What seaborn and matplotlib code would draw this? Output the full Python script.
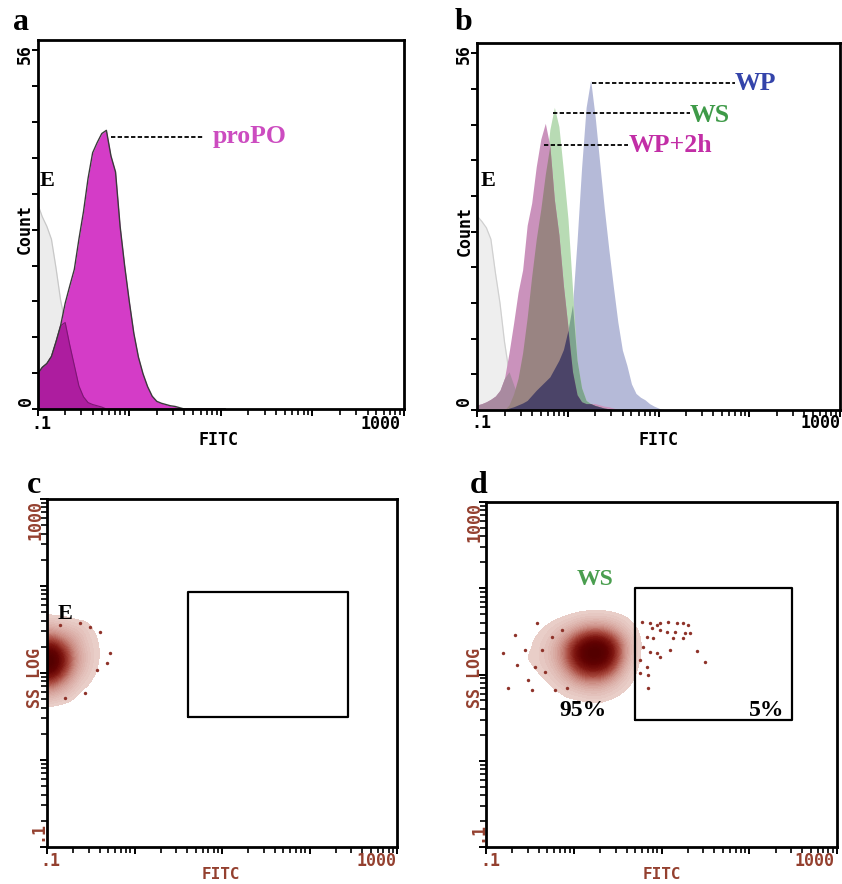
import numpy as np
import matplotlib
matplotlib.use("Agg")
import matplotlib.pyplot as plt
from matplotlib.ticker import FixedLocator, LogLocator, NullFormatter
from matplotlib.colors import LinearSegmentedColormap
import seaborn as sns

sns.set_theme(style="white")
MONO = ["DejaVu Sans Mono", "DejaVu Sans"]
SERIF = ["Liberation Serif", "DejaVu Serif"]
plt.rcParams["font.family"] = MONO

# ---------------- histogram data (log10 FITC bin centres, counts) ----------------
log_fitc = [-1.00, -0.95, -0.90, -0.85, -0.80, -0.75, -0.70, -0.65, -0.60, -0.55,
            -0.50, -0.45, -0.40, -0.35, -0.30, -0.25, -0.20, -0.15, -0.10, -0.05,
             0.00,  0.05,  0.10,  0.15,  0.20,  0.25,  0.30,  0.35,  0.40,  0.45,
             0.50,  0.55,  0.60,  0.65,  0.70,  0.75,  0.80,  0.85,  0.90,  0.95,
             1.00,  1.05]

a_E = [32.0, 30.0, 28.5, 26.5, 22.0, 17.0, 13.5, 10.0, 6.8, 3.6,
       1.9, 1.0, 0.7, 0.5, 0.3, 0, 0, 0, 0, 0,
       0, 0, 0, 0, 0, 0, 0, 0, 0, 0,
       0, 0, 0, 0, 0, 0, 0, 0, 0, 0,
       0, 0]
a_proPO = [5.5, 6.5, 7.1, 8.2, 10.5, 13.0, 16.5, 19.2, 21.8, 26.5,
           30.8, 36.0, 40.0, 41.6, 43.0, 43.5, 39.5, 37.0, 28.5, 22.3,
           16.8, 11.8, 8.1, 5.5, 3.5, 2.0, 1.2, 0.9, 0.7, 0.5,
           0.4, 0.2, 0, 0, 0, 0, 0, 0, 0, 0,
           0, 0]

b_E = [30.4, 29.6, 28.6, 26.8, 21.5, 16.8, 10.7, 6.0, 4.0, 2.0,
       0.9, 0.5, 0.2, 0, 0, 0, 0, 0, 0, 0,
       0, 0, 0, 0, 0, 0, 0, 0, 0, 0,
       0, 0, 0, 0, 0, 0, 0, 0, 0, 0,
       0, 0]
b_WP2h = [0.8, 1.0, 1.3, 1.7, 2.2, 3.1, 5.0, 9.0, 13.6, 18.5,
          22.0, 29.0, 32.5, 38.2, 42.5, 45.0, 41.5, 33.0, 27.5, 19.5,
          13.0, 6.0, 2.4, 1.3, 1.0, 1.0, 1.0, 0.8, 0.6, 0.5,
          0.3, 0.1, 0, 0, 0, 0, 0, 0, 0, 0,
          0, 0]
b_WS = [0, 0, 0, 0, 0, 0, 0, 0.8, 2.5, 5.0,
        9.0, 14.5, 21.0, 26.8, 31.5, 37.0, 44.0, 47.5, 44.5, 37.5,
        30.0, 19.0, 7.8, 3.5, 1.5, 1.0, 0.7, 0.5, 0.3, 0.2,
        0, 0, 0, 0, 0, 0, 0, 0, 0, 0,
        0, 0]
b_WP = [0, 0, 0, 0, 0, 0, 0, 0.3, 0.5, 0.8,
        1.1, 1.5, 2.3, 3.1, 3.8, 4.5, 5.2, 6.5, 7.8, 9.5,
        12.5, 16.5, 26.5, 38.0, 47.5, 51.8, 46.0, 38.8, 31.7, 25.3,
        19.4, 13.8, 9.4, 7.0, 4.1, 2.6, 2.0, 1.6, 1.0, 0.6,
        0.3, 0]

count_ticks = [0, 5.6, 11.2, 16.8, 22.4, 28.0, 33.6, 39.2, 44.8, 50.4, 56.0]
count_tick_labels = ["0", "56"]
fitc_tick_labels = [".1", "1000"]
ss_tick_labels = [".1", "1000"]

# peak markers (count level, dashed leader from/to FITC)
a_peak = {"proPO": (42.4, 0.627, 6.4)}
b_peaks = {"WP": (51.4, 1.82, 68.9), "WS": (46.6, 0.682, 22.0), "WP+2h": (41.6, 0.543, 4.57)}

# ---------------- dot-plot data: density grids (log10 FITC x log10 SS) ----------------
c_grid_logx = [-1.0, -0.9, -0.8, -0.7, -0.6, -0.5, -0.4, -0.3]
c_grid_logy = [1.6, 1.5, 1.4, 1.3, 1.2, 1.1, 1.0, 0.9, 0.8, 0.7]
c_density = [
    [3, 2, 2, 1, 1, 1, 0, 0],
    [8, 6, 5, 4, 3, 1, 1, 0],
    [18, 14, 10, 7, 4, 2, 1, 0],
    [36, 28, 18, 10, 5, 2, 1, 1],
    [55, 42, 26, 13, 6, 3, 1, 1],
    [58, 44, 26, 12, 6, 2, 1, 0],
    [40, 30, 18, 9, 4, 2, 1, 0],
    [22, 16, 10, 5, 2, 1, 0, 0],
    [10, 7, 5, 3, 1, 1, 0, 0],
    [4, 3, 2, 1, 0, 0, 0, 0],
]
c_stray_logx = [-0.28, -0.432, -0.394, -0.566, -0.794, -0.509, -0.318, -0.623, -0.851]
c_stray_logy = [1.226, 1.034, 1.475, 0.770, 0.713, 1.532, 1.111, 1.571, 1.552]

d_grid_logx = [-0.8, -0.7, -0.6, -0.5, -0.4, -0.3, -0.2, -0.1, 0.0, 0.1, 0.2, 0.3, 0.4, 0.5, 0.6, 0.7]
d_grid_logy = [1.7, 1.6, 1.5, 1.4, 1.3, 1.2, 1.1, 1.0, 0.9, 0.8, 0.7]
d_density = [
    [0, 0, 0, 0, 0, 0, 0, 1, 1, 2, 2, 2, 2, 1, 1, 0],
    [0, 0, 0, 0, 1, 1, 2, 3, 4, 6, 7, 7, 6, 4, 2, 1],
    [0, 0, 0, 1, 1, 2, 4, 6, 10, 16, 20, 20, 15, 9, 4, 2],
    [0, 0, 1, 1, 2, 3, 6, 12, 22, 34, 42, 42, 32, 18, 7, 3],
    [0, 1, 1, 1, 2, 4, 8, 16, 32, 50, 60, 60, 46, 24, 8, 3],
    [1, 0, 1, 2, 2, 4, 8, 16, 32, 50, 60, 58, 44, 22, 8, 2],
    [0, 0, 1, 1, 2, 3, 6, 12, 24, 38, 44, 42, 32, 16, 5, 2],
    [0, 0, 0, 1, 1, 2, 4, 8, 14, 22, 26, 24, 18, 9, 3, 1],
    [0, 0, 0, 0, 1, 1, 2, 4, 7, 10, 12, 11, 8, 4, 2, 1],
    [0, 0, 0, 0, 0, 1, 1, 2, 3, 4, 5, 5, 3, 2, 1, 0],
    [0, 0, 0, 0, 0, 0, 0, 1, 1, 1, 2, 2, 1, 1, 0, 0],
]
d_stray_logx = [0.774, 0.869, 0.945, 0.983, 1.078, 1.173, 1.249, 1.306, 0.888, 0.983,
                1.059, 1.154, 1.268, 1.325, 0.831, 0.907, 1.135, 1.249, 0.793, 0.869,
                0.945, 0.983, 1.097, 1.401, 1.496, 0.831, 0.850, 0.850, 0.755, 0.755,
                -0.803, -0.670, -0.650, -0.518, -0.479, -0.422, -0.365, -0.328, -0.251, -0.214,
                -0.137, -0.080, -0.556, -0.746, -0.442]
d_stray_logy = [1.612, 1.594, 1.574, 1.594, 1.612, 1.601, 1.594, 1.574, 1.535, 1.516,
                1.496, 1.496, 1.477, 1.477, 1.438, 1.419, 1.419, 1.419, 1.322, 1.264,
                1.245, 1.206, 1.284, 1.276, 1.148, 1.090, 0.994, 0.840, 1.168, 1.014,
                1.246, 1.458, 1.110, 0.936, 0.820, 1.594, 1.284, 1.033, 1.438, 0.820,
                1.516, 0.840, 1.284, 0.840, 1.090]

c_gate_fitc = [4.06, 273.0]
c_gate_ss = [3.15, 86.0]
d_gate_fitc = [5.0, 305.0]
d_gate_ss = [3.0, 100.0]

# ---------------- figure ----------------
W, H = 842, 884
fig = plt.figure(figsize=(W / 100, H / 100), dpi=100)
fig.patch.set_facecolor("white")


def rect(l, t, r, b):
    return [l / W, 1 - b / H, (r - l) / W, (b - t) / H]


def ftext(x, y, s, **kw):
    return fig.text(x / W, 1 - y / H, s, **kw)


ax_a = fig.add_axes(rect(37.7, 40, 404, 409))
ax_b = fig.add_axes(rect(477.3, 43, 840, 410))
ax_c = fig.add_axes(rect(47, 499, 397, 847))
ax_d = fig.add_axes(rect(486, 502, 837, 847))

fitc = 10 ** np.array(log_fitc)


def style_common(ax):
    ax.set_facecolor("white")
    ax.grid(False)
    for s in ax.spines.values():
        s.set_visible(True)
        s.set_color("black")
        s.set_linewidth(2.0)
        s.set_zorder(10)
    ax.set_xscale("log")
    ax.set_xlim(0.1, 1000)
    ax.xaxis.set_major_locator(FixedLocator([0.1, 1, 10, 100, 1000]))
    ax.xaxis.set_minor_locator(LogLocator(base=10, subs=np.arange(2, 10), numticks=100))
    ax.xaxis.set_minor_formatter(NullFormatter())
    ax.tick_params(which="both", direction="out", colors="black", bottom=True, left=True,
                   top=False, right=False, labelbottom=False, labelleft=False)
    ax.tick_params(which="major", length=5, width=1.4)
    ax.tick_params(which="minor", length=4.5, width=1.2)
    ax.set_xlabel("")
    ax.set_ylabel("")


def fill(ax, y, color, z):
    ax.fill_between(fitc, 0, y, color=color, lw=0, zorder=z)


def outline(ax, y, color, lw, z):
    sns.lineplot(x=fitc, y=np.asarray(y, dtype=float), color=color,
                 lw=lw, ax=ax, zorder=z, estimator=None)


# ---- panel a ----
E = np.array(a_E, float)
P = np.array(a_proPO, float)
fill(ax_a, E, "#ececec", 1)
outline(ax_a, E, "#c8c8c8", 0.9, 1.5)
fill(ax_a, P, "#d43cc7", 2)
fill(ax_a, np.minimum(E, P), "#ad1d9f", 3)
outline(ax_a, np.minimum(E, P), "#7d1774", 0.8, 4)
outline(ax_a, P, "#3a3a3a", 1.0, 5)
style_common(ax_a)
ax_a.set_ylim(0, 57.6)
ax_a.yaxis.set_major_locator(FixedLocator(count_ticks))
ax_a.yaxis.set_minor_locator(FixedLocator([]))
ax_a.tick_params(axis="y", which="major", length=4)

lvl, x0, x1 = a_peak["proPO"]
ax_a.plot([x0, x1], [lvl, lvl], color="black", lw=1.3, ls=(0, (2.4, 1.3)), zorder=6)

# ---- panel b ----
bE = np.array(b_E, float)
bP = np.array(b_WP2h, float)
bS = np.array(b_WS, float)
bW = np.array(b_WP, float)
fill(ax_b, bE, "#eeeeee", 1)
outline(ax_b, bE, "#d0d0d0", 0.9, 1.2)
fill(ax_b, bW, "#b5bad8", 2)
fill(ax_b, bS, "#b8dbb4", 3)
fill(ax_b, bP, "#ca92bc", 4)
fill(ax_b, np.minimum(bE, bP), "#a98aa0", 5)
fill(ax_b, np.minimum(bS, bW), "#7ea48f", 6)
fill(ax_b, np.minimum(bP, bS), "#998482", 7)
fill(ax_b, np.minimum(np.minimum(bP, bS), bW), "#4b4468", 8)
style_common(ax_b)
ax_b.set_ylim(0, 57.6)
ax_b.yaxis.set_major_locator(FixedLocator(count_ticks))
ax_b.yaxis.set_minor_locator(FixedLocator([]))
ax_b.tick_params(axis="y", which="major", length=4)
for name, (lvl, x0, x1) in b_peaks.items():
    ax_b.plot([x0, x1], [lvl, lvl], color="black", lw=1.3, ls=(0, (2.4, 1.3)), zorder=9)

# ---- dot plots ----
fc_cmap = LinearSegmentedColormap.from_list(
    "fc", ["#ead0cb", "#cf948b", "#a8493e", "#7e1610", "#620202", "#520000"])


def grid_points(gx, gy, dens):
    xs, ys, ws = [], [], []
    for i, ly in enumerate(gy):
        for j, lx in enumerate(gx):
            w = dens[i][j]
            if w > 0:
                xs.append(10 ** lx)
                ys.append(10 ** ly)
                ws.append(w)
    return np.array(xs), np.array(ys), np.array(ws, float)


def dot_panel(ax, gx, gy, dens, sx, sy, gate_x, gate_y):
    xs, ys, ws = grid_points(gx, gy, dens)
    sns.kdeplot(x=xs, y=ys, weights=ws, log_scale=True, fill=True, levels=40, thresh=0.03,
                cmap=fc_cmap, bw_adjust=0.7, ax=ax, zorder=2)
    sns.scatterplot(x=10 ** np.array(sx), y=10 ** np.array(sy), s=6, color="#8e3229",
                    linewidth=0, ax=ax, zorder=3)
    style_common(ax)
    ax.set_yscale("log")
    ax.set_ylim(0.1, 1000)
    ax.yaxis.set_major_locator(FixedLocator([0.1, 1, 10, 100, 1000]))
    ax.yaxis.set_minor_locator(LogLocator(base=10, subs=np.arange(2, 10), numticks=100))
    ax.yaxis.set_minor_formatter(NullFormatter())
    ax.tick_params(which="both", direction="out", left=True, bottom=True)
    ax.tick_params(which="major", length=5, width=1.4)
    ax.tick_params(which="minor", length=4.5, width=1.2)
    gx0, gx1 = gate_x
    gy0, gy1 = gate_y
    ax.plot([gx0, gx1, gx1, gx0, gx0], [gy0, gy0, gy1, gy1, gy0], color="black", lw=1.6, zorder=5)


dot_panel(ax_c, c_grid_logx, c_grid_logy, c_density, c_stray_logx, c_stray_logy, c_gate_fitc, c_gate_ss)
dot_panel(ax_d, d_grid_logx, d_grid_logy, d_density, d_stray_logx, d_stray_logy, d_gate_fitc, d_gate_ss)

# ---------------- text ----------------
tick_kw = dict(fontsize=12, fontweight="bold", family=MONO)
BROWN = "#94402f"

# panel a axis text
ftext(41.5, 424, fitc_tick_labels[0], ha="center", va="center", color="black", **tick_kw)
ftext(401, 424, fitc_tick_labels[1], ha="right", va="center", color="black", **tick_kw)
ftext(25.5, 401, count_tick_labels[0], ha="center", va="center", rotation=90, color="black", **tick_kw)
ftext(25, 53.5, count_tick_labels[1], ha="center", va="center", rotation=90, color="black", **tick_kw)
ftext(25, 229, "Count", ha="center", va="center", rotation=90, color="black", **tick_kw)
ftext(219, 440, "FITC", ha="center", va="center", color="black", **tick_kw)

# panel b axis text
ftext(481.5, 423, fitc_tick_labels[0], ha="center", va="center", color="black", **tick_kw)
ftext(840.5, 423, fitc_tick_labels[1], ha="right", va="center", color="black", **tick_kw)
ftext(464, 401, count_tick_labels[0], ha="center", va="center", rotation=90, color="black", **tick_kw)
ftext(463.5, 54, count_tick_labels[1], ha="center", va="center", rotation=90, color="black", **tick_kw)
ftext(464.5, 231, "Count", ha="center", va="center", rotation=90, color="black", **tick_kw)
ftext(659, 440, "FITC", ha="center", va="center", color="black", **tick_kw)

# panel c axis text
ftext(50.5, 861, fitc_tick_labels[0], ha="center", va="center", color=BROWN, **tick_kw)
ftext(397, 861, fitc_tick_labels[1], ha="right", va="center", color=BROWN, **tick_kw)
ftext(35, 520, ss_tick_labels[1], ha="center", va="center", rotation=90, color=BROWN, **tick_kw)
ftext(37, 831, ss_tick_labels[0], ha="center", va="center", rotation=90, color=BROWN, **tick_kw)
ftext(35, 677.5, "SS LOG", ha="center", va="center", rotation=90, color=BROWN, **tick_kw)
ftext(221, 874.5, "FITC", ha="center", va="center", color=BROWN,
      fontsize=11.5, fontweight="bold", family=MONO)

# panel d axis text
ftext(490.5, 861, fitc_tick_labels[0], ha="center", va="center", color=BROWN, **tick_kw)
ftext(835, 861, fitc_tick_labels[1], ha="right", va="center", color=BROWN, **tick_kw)
ftext(474.5, 521.5, ss_tick_labels[1], ha="center", va="center", rotation=90, color=BROWN, **tick_kw)
ftext(477.5, 831.5, ss_tick_labels[0], ha="center", va="center", rotation=90, color=BROWN, **tick_kw)
ftext(474.5, 677.5, "SS LOG", ha="center", va="center", rotation=90, color=BROWN, **tick_kw)
ftext(661.7, 874.5, "FITC", ha="center", va="center", color=BROWN,
      fontsize=11.5, fontweight="bold", family=MONO)

serif_kw = dict(family=SERIF, fontweight="bold")
# panel letters
for lab, (x, y) in {"a": (21.5, 30), "b": (464, 30), "c": (34.5, 493), "d": (479, 493)}.items():
    ftext(x, y, lab, ha="center", va="baseline", fontsize=23, color="black", **serif_kw)

# annotations
ftext(47.5, 186, "E", ha="center", va="baseline", fontsize=16, color="black", **serif_kw)
ftext(213, 143, "proPO", ha="left", va="baseline", fontsize=18.5, color="#cc4cc0", **serif_kw)
ftext(488.3, 186, "E", ha="center", va="baseline", fontsize=16, color="black", **serif_kw)
ftext(735, 90, "WP", ha="left", va="baseline", fontsize=18.5, color="#3444aa", **serif_kw)
ftext(690, 122.5, "WS", ha="left", va="baseline", fontsize=18.5, color="#3e9a48", **serif_kw)
ftext(629, 152, "WP+2h", ha="left", va="baseline", fontsize=18.5, color="#c22ea6", **serif_kw)
ftext(65.5, 619, "E", ha="center", va="baseline", fontsize=16, color="black", **serif_kw)
ftext(594.7, 585, "WS", ha="center", va="baseline", fontsize=17, color="#4a9e4f", **serif_kw)
ftext(582.5, 716.5, "95%", ha="center", va="baseline", fontsize=17, color="black", **serif_kw)
ftext(766.5, 716.5, "5%", ha="center", va="baseline", fontsize=17, color="black", **serif_kw)

fig.savefig("out.png", dpi=100, facecolor="white")
